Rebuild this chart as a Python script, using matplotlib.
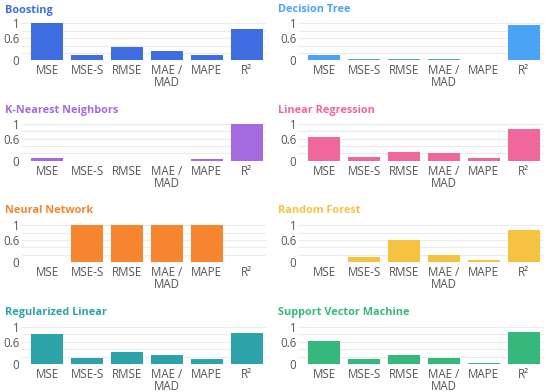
import matplotlib
matplotlib.use("Agg")
import matplotlib.pyplot as plt
import numpy as np

metrics = ["MSE", "MSE-S", "RMSE", "MAE /\nMAD", "MAPE", "R²"]
models = ["Boosting", "Decision Tree", "K-Nearest Neighbors", "Linear Regression",
          "Neural Network", "Random Forest", "Regularized Linear", "Support Vector Machine"]
boosting = [1.0, 0.135, 0.37, 0.24, 0.135, 0.85]
decision_tree = [0.14, 0.035, 0.035, 0.045, 0.0, 0.955]
knn = [0.07, 0.0, 0.0, 0.0, 0.035, 0.99]
linear_regression = [0.64, 0.10, 0.245, 0.20, 0.07, 0.86]
neural_network = [0.0, 1.0, 1.0, 1.0, 1.0, 0.0]
random_forest = [0.0, 0.125, 0.60, 0.20, 0.045, 0.865]
regularized_linear = [0.80, 0.155, 0.315, 0.245, 0.125, 0.83]
svm = [0.61, 0.125, 0.25, 0.155, 0.035, 0.855]
series = [boosting, decision_tree, knn, linear_regression,
          neural_network, random_forest, regularized_linear, svm]
colors = ["#3d6de0", "#4aa3f5", "#a569e0", "#f0679b",
          "#f5862f", "#f5c242", "#2ca3a8", "#36b87c"]
yticks = [0, 0.6, 1]
ytick_labels = ["0", "0.6", "1"]

plt.rcParams['font.family'] = ['Open Sans', 'DejaVu Sans']
W, H = 550, 392
fig = plt.figure(figsize=(5.5, 3.92), dpi=100)

col_left = [22, 299]
row_zero = [60.3, 160.7, 262, 364]
row_one = [23.3, 124, 225.3, 327]
title_y = [10, 110.5, 211, 312]
title_x = [5, 278]
axw = 243

for i, (name, vals, c) in enumerate(zip(models, series, colors)):
    r, cidx = divmod(i, 2)
    left = col_left[cidx]
    h = row_zero[r] - row_one[r]
    ax = fig.add_axes([left / W, (H - row_zero[r]) / H, axw / W, h / H])
    x = np.arange(len(metrics))
    ax.bar(x, vals, width=0.8, color=c, zorder=3)
    ax.set_xlim(-0.63, 5.46)
    ax.set_ylim(0, 1)
    for g in [0.2, 0.4, 0.6, 0.8, 1.0]:
        ax.axhline(g, color="#ebebeb", lw=0.8, zorder=1, clip_on=False)
    ax.axhline(0, color="#dddddd", lw=0.8, zorder=2)
    ax.set_yticks(yticks)
    ax.set_yticklabels(ytick_labels)
    ax.set_xticks(x)
    ax.set_xticklabels(metrics, linespacing=0.9)
    ax.tick_params(axis="both", length=0, labelsize=8.3, colors="#555555", pad=3)
    ax.tick_params(axis="y", pad=2)
    for s in ax.spines.values():
        s.set_visible(False)
    fig.text(title_x[cidx] / W, 1 - title_y[r] / H, name, color=c,
             fontsize=7.8, fontweight="bold", va="center", ha="left")

fig.savefig("out.png", dpi=100)
